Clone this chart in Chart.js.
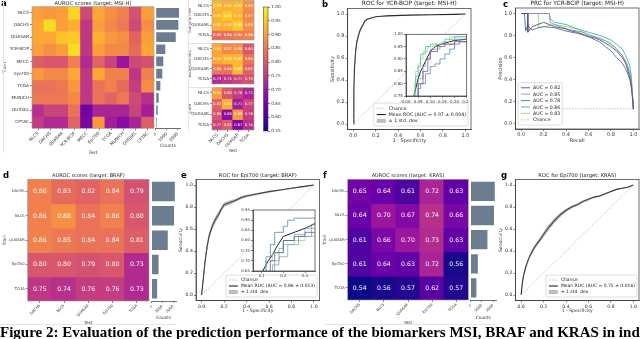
<!DOCTYPE html>
<html><head><meta charset="utf-8">
<script src="https://cdn.jsdelivr.net/npm/chart.js@4.4.1/dist/chart.umd.min.js"></script>
<style>
html,body{margin:0;padding:0;background:#fff;}
#fig{position:relative;width:640px;height:339px;overflow:hidden;background:#fff;}
canvas{position:absolute;}
.lbl{position:absolute;font:bold 8.5px 'DejaVu Sans',sans-serif;line-height:9px;color:#000;}
.rule{position:absolute;background:#e4e4e4;}
#caption{position:absolute;left:0;top:325px;white-space:nowrap;font:bold 15px 'Liberation Serif',serif;line-height:15px;color:#000;}
</style></head><body><div id="fig"></div>
<script>
// ================= DATA =================
const MSI_COHORTS = ['NLCS','DACHS','QUASAR','YCR-BCIP','MECC','Epi700','TCGA','MUNICH','DUSSEL','CPTAC'];
const MSI_AUROC = [
 [0.90,0.89,0.90,0.96,0.78,0.91,0.88,0.86,0.79,0.90],
 [0.91,0.97,0.90,0.92,0.75,0.90,0.87,0.85,0.78,0.88],
 [0.91,0.91,0.94,0.95,0.75,0.92,0.89,0.88,0.82,0.90],
 [0.90,0.88,0.90,0.97,0.75,0.90,0.87,0.87,0.83,0.91],
 [0.81,0.80,0.80,0.86,0.73,0.82,0.77,0.70,0.78,0.79],
 [0.89,0.87,0.87,0.91,0.75,0.91,0.86,0.86,0.75,0.86],
 [0.84,0.84,0.85,0.89,0.75,0.84,0.86,0.83,0.76,0.88],
 [0.85,0.85,0.85,0.87,0.75,0.84,0.82,0.85,0.78,0.74],
 [0.74,0.77,0.77,0.84,0.65,0.72,0.72,0.72,0.77,0.71],
 [0.76,0.73,0.73,0.82,0.66,0.89,0.71,0.68,0.72,0.81]];
const MSI_COUNTS = [2120,2060,1820,870,690,600,420,270,180,100];
const MSI_COUNT_MAX = 2226;
const COUNT_TICKS = [0,1000,2000];

const MODEL_NAMES = ['Transformer','AttentionMIL','CNN'];
const MODEL_COHORTS = ['NLCS','DACHS','QUASAR','TCGA'];
const TRANSFORMER_AUROC = [[0.93,0.92,0.93,0.88],[0.92,0.95,0.92,0.87],[0.92,0.92,0.95,0.88],[0.83,0.84,0.85,0.86]];
const ATTMIL_AUROC = [[0.91,0.87,0.88,0.80],[0.91,0.93,0.93,0.84],[0.85,0.84,0.93,0.82],[0.73,0.75,0.77,0.79]];
const CNN_AUROC = [[0.90,0.80,0.76,0.72],[0.82,0.92,0.71,0.77],[0.80,0.68,0.89,0.76],[0.77,0.81,0.67,0.74]];

const CBAR_MIN = 0.55, CBAR_MAX = 1.00;
const CBAR_TICKS = [0.55,0.60,0.65,0.70,0.75,0.80,0.85,0.90,0.95,1.00];

const ROC_TICKS = [0,0.2,0.4,0.6,0.8,1.0];
const CHANCE_LINE = [[0,0],[1,1]];
const MSI_ROC_MEAN = [[0,0],[0.005,0.3],[0.01,0.5],[0.02,0.65],[0.03,0.74],[0.04,0.78],[0.05,0.82],[0.06,0.85],[0.07,0.87],[0.08,0.89],[0.09,0.91],[0.1,0.93],[0.12,0.95],[0.15,0.962],[0.2,0.975],[0.25,0.98],[0.3,0.983],[0.5,0.99],[0.7,0.993],[0.9,0.997],[1,1]];
const MSI_ROC_UPPER = [[0,0],[0.005,0.36],[0.01,0.55],[0.02,0.69],[0.03,0.77],[0.04,0.81],[0.05,0.845],[0.06,0.87],[0.08,0.905],[0.1,0.94],[0.12,0.955],[0.15,0.966],[0.2,0.978],[0.3,0.985],[0.5,0.991],[0.7,0.994],[0.9,0.998],[1,1]];
const MSI_ROC_LOWER = [[0,0],[0.005,0.25],[0.01,0.45],[0.02,0.61],[0.03,0.71],[0.04,0.75],[0.05,0.795],[0.06,0.83],[0.08,0.875],[0.1,0.92],[0.12,0.945],[0.15,0.958],[0.2,0.972],[0.3,0.981],[0.5,0.989],[0.7,0.992],[0.9,0.996],[1,1]];
const MSI_ROC_FOLDS = [
 [[0.04,0.74],[0.05,0.8],[0.07,0.85],[0.09,0.9],[0.1,0.93],[0.13,0.95],[0.16,0.96],[0.2,0.97],[0.25,0.975]],
 [[0.035,0.74],[0.05,0.82],[0.07,0.87],[0.08,0.9],[0.1,0.94],[0.14,0.96],[0.2,0.98],[0.25,0.985]],
 [[0.04,0.74],[0.05,0.78],[0.06,0.8],[0.08,0.84],[0.1,0.87],[0.12,0.88],[0.14,0.9],[0.16,0.92],[0.18,0.94],[0.2,0.96],[0.22,0.97],[0.25,0.97]],
 [[0.03,0.74],[0.04,0.83],[0.05,0.87],[0.06,0.92],[0.08,0.95],[0.1,0.96],[0.13,0.96],[0.16,0.98],[0.2,0.99],[0.25,0.99]],
 [[0.03,0.74],[0.035,0.8],[0.04,0.85],[0.05,0.88],[0.06,0.9],[0.07,0.93],[0.09,0.95],[0.12,0.96],[0.15,0.97],[0.18,0.99],[0.25,0.99]]];
const MSI_INSET_XTICKS = [0,0.05,0.10,0.15,0.20,0.25];
const MSI_INSET_YTICKS = [0.75,0.80,0.85,0.90,0.95,1.00];
const FOLD_COLORS = ['#6a3d8f','#8a8fb5','#3d7ba1','#3cb3a8','#8cd96a'];

const PRC_FOLDS = [
 [[0,1],[0.06,1],[0.06,0.83],[0.1,0.88],[0.15,0.9],[0.2,0.92],[0.25,0.9],[0.3,0.88],[0.35,0.87],[0.4,0.86],[0.45,0.84],[0.5,0.83],[0.55,0.81],[0.6,0.79],[0.65,0.78],[0.7,0.76],[0.75,0.73],[0.8,0.7],[0.85,0.66],[0.9,0.6],[0.93,0.55],[0.96,0.45],[0.98,0.35],[0.99,0.25],[1,0.13]],
 [[0,1],[0.25,1],[0.26,0.92],[0.3,0.9],[0.35,0.88],[0.4,0.86],[0.45,0.85],[0.5,0.84],[0.55,0.83],[0.6,0.81],[0.65,0.79],[0.7,0.77],[0.75,0.75],[0.8,0.72],[0.85,0.68],[0.9,0.62],[0.94,0.55],[0.97,0.45],[0.99,0.3],[1,0.13]],
 [[0,1],[0.03,1],[0.04,0.84],[0.06,0.9],[0.08,0.86],[0.1,0.85],[0.15,0.87],[0.2,0.88],[0.3,0.87],[0.4,0.84],[0.5,0.82],[0.6,0.79],[0.7,0.74],[0.75,0.7],[0.8,0.66],[0.85,0.6],[0.9,0.55],[0.93,0.5],[0.95,0.45],[0.97,0.4],[0.99,0.28],[1,0.13]],
 [[0,1],[0.25,1],[0.26,0.95],[0.3,0.92],[0.4,0.9],[0.5,0.86],[0.6,0.83],[0.7,0.8],[0.8,0.76],[0.85,0.72],[0.9,0.68],[0.93,0.62],[0.96,0.55],[0.98,0.45],[1,0.13]],
 [[0,1],[0.15,1],[0.16,0.87],[0.2,0.88],[0.3,0.9],[0.4,0.88],[0.5,0.86],[0.6,0.8],[0.7,0.78],[0.8,0.73],[0.85,0.68],[0.9,0.62],[0.95,0.52],[0.98,0.4],[1,0.15]]];
const PRC_AUC = [0.82,0.85,0.78,0.86,0.83];
const PRC_CHANCE = 0.135;

const BK_COHORTS = ['DACHS','NLCS','QUASAR','Epi700','TCGA'];
const BRAF_AUROC = [[0.86,0.83,0.82,0.84,0.79],[0.86,0.88,0.84,0.86,0.80],[0.86,0.85,0.84,0.84,0.81],[0.80,0.80,0.79,0.80,0.73],[0.75,0.74,0.76,0.76,0.73]];
const KRAS_AUROC = [[0.65,0.64,0.61,0.72,0.63],[0.64,0.70,0.67,0.74,0.66],[0.61,0.66,0.70,0.73,0.63],[0.61,0.64,0.63,0.72,0.56],[0.54,0.56,0.57,0.62,0.57]];
const BK_COUNTS = [2150,2080,1500,650,520];
const BK_COUNT_MAX = 2258;

const BRAF_ROC_MEAN = [[0,0],[0.01,0.1],[0.02,0.2],[0.03,0.3],[0.05,0.45],[0.07,0.55],[0.09,0.61],[0.11,0.66],[0.13,0.7],[0.15,0.73],[0.17,0.77],[0.2,0.82],[0.25,0.84],[0.3,0.86],[0.35,0.885],[0.4,0.9],[0.5,0.92],[0.6,0.94],[0.7,0.955],[0.8,0.97],[0.9,0.985],[1,1]];
const BRAF_ROC_UPPER = [[0,0],[0.01,0.13],[0.02,0.24],[0.03,0.34],[0.05,0.49],[0.07,0.585],[0.09,0.645],[0.11,0.69],[0.13,0.73],[0.15,0.76],[0.17,0.795],[0.2,0.84],[0.25,0.86],[0.3,0.875],[0.35,0.9],[0.4,0.912],[0.5,0.93],[0.6,0.948],[0.7,0.962],[0.8,0.975],[0.9,0.988],[1,1]];
const BRAF_ROC_LOWER = [[0,0],[0.01,0.07],[0.02,0.16],[0.03,0.26],[0.05,0.41],[0.07,0.515],[0.09,0.575],[0.11,0.63],[0.13,0.67],[0.15,0.7],[0.17,0.745],[0.2,0.8],[0.25,0.82],[0.3,0.845],[0.35,0.87],[0.4,0.888],[0.5,0.91],[0.6,0.932],[0.7,0.948],[0.8,0.965],[0.9,0.982],[1,1]];
const BRAF_ROC_FOLDS = [
 [[0.13,0.64],[0.14,0.7],[0.16,0.74],[0.2,0.8],[0.25,0.82],[0.3,0.84],[0.35,0.86]],
 [[0.12,0.64],[0.15,0.68],[0.18,0.72],[0.22,0.78],[0.27,0.82],[0.33,0.88],[0.35,0.89]],
 [[0.1,0.64],[0.12,0.72],[0.14,0.78],[0.16,0.84],[0.2,0.87],[0.22,0.9],[0.25,0.91],[0.35,0.91]],
 [[0.14,0.64],[0.16,0.7],[0.18,0.76],[0.2,0.8],[0.25,0.83],[0.3,0.86],[0.35,0.9]],
 [[0.1,0.64],[0.12,0.7],[0.15,0.74],[0.2,0.78],[0.25,0.8],[0.3,0.82],[0.35,0.84]]];
const BRAF_INSET_XTICKS = [0.1,0.2,0.3];
const BRAF_INSET_YTICKS = [0.65,0.70,0.75,0.80,0.85,0.90,0.95];

const KRAS_ROC_MEAN = [[0,0],[0.01,0.1],[0.02,0.17],[0.04,0.25],[0.06,0.31],[0.08,0.36],[0.1,0.4],[0.13,0.45],[0.16,0.49],[0.2,0.55],[0.25,0.62],[0.3,0.68],[0.35,0.73],[0.4,0.77],[0.45,0.8],[0.5,0.82],[0.55,0.85],[0.6,0.87],[0.65,0.89],[0.7,0.9],[0.75,0.92],[0.8,0.94],[0.85,0.96],[0.9,0.97],[0.95,0.98],[1,1]];
const KRAS_ROC_UPPER = [[0,0],[0.01,0.12],[0.02,0.19],[0.04,0.27],[0.06,0.33],[0.08,0.38],[0.1,0.42],[0.13,0.47],[0.16,0.51],[0.2,0.575],[0.25,0.645],[0.3,0.7],[0.35,0.75],[0.4,0.785],[0.45,0.813],[0.5,0.832],[0.55,0.86],[0.6,0.88],[0.65,0.898],[0.7,0.908],[0.75,0.927],[0.8,0.946],[0.85,0.964],[0.9,0.974],[0.95,0.983],[1,1]];
const KRAS_ROC_LOWER = [[0,0],[0.01,0.08],[0.02,0.15],[0.04,0.23],[0.06,0.29],[0.08,0.34],[0.1,0.38],[0.13,0.43],[0.16,0.47],[0.2,0.525],[0.25,0.595],[0.3,0.66],[0.35,0.71],[0.4,0.755],[0.45,0.787],[0.5,0.808],[0.55,0.84],[0.6,0.86],[0.65,0.882],[0.7,0.892],[0.75,0.913],[0.8,0.934],[0.85,0.956],[0.9,0.966],[0.95,0.977],[1,1]];

// ================= STYLE HELPERS =================
const FONT = 'DejaVu Sans';
const AX = '#333';
const PLASMA = ['#0d0887','#41049d','#6a00a8','#8f0da4','#b12a90','#cc4778','#e16462','#f2844b','#fca636','#fcce25','#f0f921'];
function hex(h){return [parseInt(h.slice(1,3),16),parseInt(h.slice(3,5),16),parseInt(h.slice(5,7),16)];}
function plasma(v){
  let t=(v-CBAR_MIN)/(CBAR_MAX-CBAR_MIN); t=Math.max(0,Math.min(1,t));
  const p=t*10, i=Math.min(9,Math.floor(p)), f=p-i;
  const a=hex(PLASMA[i]), b=hex(PLASMA[i+1]);
  return 'rgb('+a.map((x,k)=>Math.round(x+(b[k]-x)*f)).join(',')+')';
}
Chart.defaults.font.family = FONT;
Chart.defaults.color = '#333';
Chart.defaults.animation = false;
Chart.defaults.responsive = false;
Chart.defaults.events = [];
Chart.defaults.plugins.legend.display = false;
Chart.defaults.plugins.tooltip.enabled = false;

const fig = document.getElementById('fig');
function mount(box, spec){
  const cv=document.createElement('canvas');
  cv.width=box.w; cv.height=box.h;
  cv.style.left=box.x+'px'; cv.style.top=box.y+'px';
  cv.style.width=box.w+'px'; cv.style.height=box.h+'px';
  cv.__spec=Object.assign({ox:box.x, oy:box.y}, spec||{});
  fig.appendChild(cv); return cv;
}
function fix(size){ return s=>{ if(s.isHorizontal()) s.height=size; else s.width=size; s.paddingLeft=s.paddingRight=s.paddingTop=s.paddingBottom=0; }; }

// ================= PLUGINS =================
Chart.register({id:'whiteBg', beforeDraw(chart){ const sp=chart.canvas.__spec; if(!sp||!sp.bg) return; const a=chart.chartArea,c=chart.ctx; c.save(); c.fillStyle='#fff'; c.fillRect(a.left,a.top,a.right-a.left,a.bottom-a.top); c.restore(); }});
Chart.register({id:'frame', afterDatasetsDraw(chart){ const sp=chart.canvas.__spec; if(!sp||!sp.frame) return; const a=chart.chartArea,c=chart.ctx; c.save(); c.strokeStyle=sp.frame; c.lineWidth=sp.frameW||0.7; c.strokeRect(a.left,a.top,a.right-a.left,a.bottom-a.top); c.restore(); }});
Chart.register({id:'cellLabels', afterDatasetsDraw(chart){ const sp=chart.canvas.__spec; if(!sp||!sp.cell) return; const c=chart.ctx; c.save(); c.font=sp.cell+'px '+FONT; c.fillStyle='#fff'; c.textAlign='center'; c.textBaseline='middle';
  chart.data.datasets.forEach((ds,i)=>{ chart.getDatasetMeta(i).data.forEach((el,j)=>{ const p=el.getCenterPoint(); c.fillText(ds.values[j].toFixed(2), p.x, p.y+0.3); }); }); c.restore(); }});
Chart.register({id:'axTitle', afterDraw(chart){ const sp=chart.canvas.__spec; if(!sp||!sp.title) return; const c=chart.ctx,a=chart.chartArea; c.save(); c.font=sp.title.size+'px '+FONT; c.fillStyle='#222'; c.textAlign='center'; c.textBaseline='middle'; c.fillText(sp.title.text,(a.left+a.right)/2,sp.title.y-sp.oy); c.restore(); }});
Chart.register({id:'insetLegend', afterDraw(chart){
  const sp=chart.canvas.__spec; if(!sp||!sp.legend) return;
  const L=sp.legend, c=chart.ctx, all=chart.data.datasets;
  const list=L.order.map(i=>all[i]);
  c.save(); c.font=L.size+'px '+FONT;
  let tw=0; list.forEach(d=>{tw=Math.max(tw,c.measureText(d.label).width);});
  const hl=9, pad=2, w=tw+hl+3*pad+2, h=list.length*L.rowH+2*pad;
  const x=(L.right!==undefined? L.right-w : L.left)-sp.ox, y=L.bottom-h-sp.oy;
  c.fillStyle='rgba(255,255,255,0.85)'; c.strokeStyle='#d0d0d0'; c.lineWidth=0.7;
  c.beginPath(); if(c.roundRect) c.roundRect(x,y,w,h,1.5); else c.rect(x,y,w,h); c.fill(); c.stroke();
  list.forEach((d,i)=>{
    const cy=y+pad+i*L.rowH+L.rowH/2, hx=x+pad+1;
    if(d.isBand){ c.fillStyle=d.backgroundColor; c.fillRect(hx,cy-2,hl,4); }
    else { c.strokeStyle=d.borderColor; c.lineWidth=d.borderWidth; c.setLineDash(d.borderDash||[]); c.beginPath(); c.moveTo(hx,cy); c.lineTo(hx+hl,cy); c.stroke(); c.setLineDash([]); }
    c.fillStyle='#222'; c.textAlign='left'; c.textBaseline='middle'; c.fillText(d.label,hx+hl+pad+1,cy+0.3);
  });
  c.restore();
}});

// ================= AXIS BUILDERS =================
function linAxis(o){
  return {
    type:'linear', position:o.pos, min:o.min, max:o.max, display:true,
    afterBuildTicks:s=>{ s.ticks=o.ticks.map(v=>({value:v})); },
    afterFit:fix(o.size),
    ticks:{callback:o.fmt, font:{size:o.fs,family:FONT}, color:'#333', padding:1.2, autoSkip:false, maxRotation:o.rot||0, minRotation:o.rot||0},
    grid:{display:true, drawOnChartArea:false, drawTicks:true, tickLength:2, tickWidth:0.6, tickColor:AX},
    border:{display:o.border!==false, color:AX, width:0.7},
    title:o.title?{display:true,text:o.title,font:{size:o.ts,family:FONT},color:'#333',padding:{top:o.tpad||0,bottom:0}}:{display:false}
  };
}
function lineChart(box, plot, spec){
  const cv=mount(box,{frame:AX,title:spec.title,legend:spec.legend,bg:spec.bg});
  new Chart(cv,{type:'line',data:{datasets:spec.datasets},options:{
    layout:{padding:{left:0,top:plot.t-box.y,right:box.x+box.w-plot.r,bottom:0}},
    scales:{
      x:linAxis({pos:'bottom',min:spec.x[0],max:spec.x[1],ticks:spec.xt,fmt:spec.xf,size:box.y+box.h-plot.b,fs:spec.fs,title:spec.xl,ts:spec.ls}),
      y:linAxis({pos:'left',min:spec.y[0],max:spec.y[1],ticks:spec.yt,fmt:spec.yf,size:plot.l-box.x,fs:spec.fs,title:spec.yl,ts:spec.ls})
    }}});
}
function heat(box, plot, rows, cols, vals, spec){
  const N=rows.length;
  const cv=mount(box,{frame:'#999',frameW:0.6,cell:spec.cell,title:spec.title});
  const datasets=rows.map((r,i)=>({label:r, data:cols.map(()=>[N-1-i,N-i]), values:vals[i],
    backgroundColor:vals[i].map(v=>plasma(v)), borderWidth:0, inflateAmount:0.6, grouped:false, barPercentage:1, categoryPercentage:1}));
  const xh=box.y+box.h-plot.b;
  new Chart(cv,{type:'bar',data:{labels:cols,datasets},options:{
    layout:{padding:{left:0,top:plot.t-box.y,right:box.x+box.w-plot.r,bottom:spec.xlabels?0:xh}},
    scales:{
      x:{type:'category',display:!!spec.xlabels,offset:true,afterFit:fix(xh),
        ticks:{font:{size:spec.fs,family:FONT},color:'#333',maxRotation:45,minRotation:45,padding:0.5,autoSkip:false},
        grid:{display:true,offset:false,drawOnChartArea:false,tickLength:2,tickWidth:0.6,tickColor:AX},
        border:{display:false},
        title:spec.xt?{display:true,text:spec.xt,font:{size:spec.ts,family:FONT},color:'#333',padding:{top:0,bottom:0}}:{display:false}},
      y:{type:'linear',min:0,max:N,afterBuildTicks:s=>{ s.ticks=rows.map((r,i)=>({value:N-i-0.5})); },afterFit:fix(plot.l-box.x),
        ticks:{callback:(v,i)=>rows[i],font:{size:spec.fs,family:FONT},color:'#333',padding:1,autoSkip:false},
        grid:{display:true,drawOnChartArea:false,tickLength:2,tickWidth:0.6,tickColor:AX},
        border:{display:false},
        title:{display:true,text:spec.yt,font:{size:spec.ts,family:FONT},color:'#333',padding:{top:spec.ytpad||0,bottom:0}}}
    }}});
}
function counts(box, plot, rows, vals, max, spec){
  const cv=mount(box,{});
  new Chart(cv,{type:'bar',data:{labels:rows,datasets:[{data:vals,backgroundColor:'#6c7c91',barPercentage:0.8,categoryPercentage:1,borderWidth:0}]},
    options:{indexAxis:'y',
      layout:{padding:{left:plot.l-box.x,top:plot.t-box.y,right:box.x+box.w-plot.r,bottom:0}},
      scales:{ y:{display:false},
        x:linAxis({pos:'bottom',min:0,max:max,ticks:COUNT_TICKS,fmt:v=>String(v),size:box.y+box.h-plot.b,fs:spec.fs,rot:45,title:'Counts',ts:spec.ts}) }}});
}
function colorbar(box, plot){
  const cv=mount(box,{frame:'#444',frameW:0.6});
  new Chart(cv,{type:'bar',data:{labels:['cb'],datasets:[{data:[[CBAR_MIN,CBAR_MAX]],borderWidth:0,barPercentage:1,categoryPercentage:1,
    backgroundColor:ctx=>{ const ch=ctx.chart,a=ch.chartArea; if(!a) return PLASMA[5]; const g=ch.ctx.createLinearGradient(0,a.bottom,0,a.top); PLASMA.forEach((c,k)=>g.addColorStop(k/10,c)); return g; }}]},
    options:{layout:{padding:{left:plot.l-box.x,top:plot.t-box.y,right:0,bottom:box.y+box.h-plot.b}},
      scales:{x:{display:false},
        y:linAxis({pos:'right',min:CBAR_MIN,max:CBAR_MAX,ticks:CBAR_TICKS,fmt:v=>v.toFixed(2),size:box.x+box.w-plot.r,fs:4.3,border:false})}}});
}
function rocSets(mean, upper, lower, label){
  return [
    {label:'Chance',data:CHANCE_LINE,borderColor:'#b8b8b8',borderWidth:0.8,borderDash:[1.6,1.4],pointRadius:0,fill:false},
    {label:'_lower',data:lower,borderColor:'rgba(0,0,0,0)',borderWidth:0.1,pointRadius:0,fill:false},
    {label:'± 1 std. dev.',data:upper,borderColor:'rgba(0,0,0,0)',borderWidth:0.1,pointRadius:0,fill:'-1',backgroundColor:'rgba(110,110,110,0.45)',isBand:true},
    {label:label,data:mean,borderColor:'#222',borderWidth:1.1,pointRadius:0,fill:false}
  ];
}
function foldSets(folds, width, stepped){
  return folds.map((f,i)=>({label:'_f'+i,data:f,borderColor:FOLD_COLORS[i],borderWidth:width,pointRadius:0,fill:false,stepped:stepped,clip:0}));
}
const f1=v=>v.toFixed(1), f2=v=>v.toFixed(2);

// ================= PANEL a =================
heat({x:1,y:0,w:155,h:156},{l:32,t:6.7,r:154,b:128.3},MSI_COHORTS,MSI_COHORTS,MSI_AUROC,
  {xlabels:true,fs:4.3,ts:4.5,xt:'Test',yt:'Train',ytpad:1,title:{text:'AUROC scores (target: MSI-H)',y:3.6,size:5.2}});
counts({x:154,y:0,w:29,h:149},{l:155.7,t:6.7,r:180.2,b:128.3},MSI_COHORTS,MSI_COUNTS,MSI_COUNT_MAX,{fs:4.3,ts:4.5});
const GROUPS=[
  {name:MODEL_NAMES[0],vals:TRANSFORMER_AUROC,box:{x:186,y:0,w:70,h:42},plot:{l:212,t:0.5,r:254,b:41},xl:false},
  {name:MODEL_NAMES[1],vals:ATTMIL_AUROC,box:{x:186,y:43,w:70,h:43},plot:{l:212,t:43.5,r:254,b:85},xl:false},
  {name:MODEL_NAMES[2],vals:CNN_AUROC,box:{x:186,y:87,w:70,h:66},plot:{l:212,t:87.7,r:254,b:130},xl:true}];
GROUPS.forEach(g=>heat(g.box,g.plot,MODEL_COHORTS,MODEL_COHORTS,g.vals,{xlabels:g.xl,fs:4.2,ts:4.3,xt:g.xl?'Test':null,yt:g.name,ytpad:1.4,cell:3.6}));
colorbar({x:260,y:0,w:34,h:140},{l:263.5,t:7,r:268,b:131});

// ================= PANEL b =================
lineChart({x:330,y:0,w:143,h:144},{l:347.7,t:8.5,r:471,b:129.5},{
  datasets:rocSets(MSI_ROC_MEAN,MSI_ROC_UPPER,MSI_ROC_LOWER,'Mean ROC (AUC = 0.97 ± 0.004)'),
  x:[-0.05,1.05],y:[-0.05,1.05],xt:ROC_TICKS,yt:ROC_TICKS,xf:f1,yf:f1,fs:5,ls:5,xl:'1 - Specificity',yl:'Sensitivity',
  title:{text:'ROC for YCR-BCIP (target: MSI-H)',y:3.6,size:5.8},
  legend:{order:[0,3,2],right:468,bottom:126,size:4.7,rowH:6.3}});
lineChart({x:390,y:30,w:79,h:76},{l:406,t:34.3,r:466.7,b:96},{
  datasets:foldSets(MSI_ROC_FOLDS,0.7,'before').concat([{label:'_mean',data:MSI_ROC_MEAN,borderColor:'#222',borderWidth:1,pointRadius:0,fill:false,clip:0}]),
  x:[0,0.25],y:[0.75,1.0],xt:MSI_INSET_XTICKS,yt:MSI_INSET_YTICKS,xf:f2,yf:f2,fs:4,bg:true});

// ================= PANEL c =================
lineChart({x:498,y:0,w:142,h:144},{l:515.5,t:8,r:639,b:129},{
  datasets:PRC_FOLDS.map((f,i)=>({label:'AUC = '+PRC_AUC[i].toFixed(2),data:f,borderColor:FOLD_COLORS[i],borderWidth:0.9,pointRadius:0,fill:false}))
    .concat([{label:'Chance',data:[[0,PRC_CHANCE],[1,PRC_CHANCE]],borderColor:'#b8b8b8',borderWidth:0.8,borderDash:[1.6,1.4],pointRadius:0,fill:false}]),
  x:[-0.05,1.05],y:[-0.05,1.05],xt:ROC_TICKS,yt:ROC_TICKS,xf:f1,yf:f1,fs:5,ls:5,xl:'Recall',yl:'Precision',
  title:{text:'PRC for YCR-BCIP (target: MSI-H)',y:3.6,size:5.8},
  legend:{order:[0,1,2,3,4,5],left:518,bottom:125,size:4.7,rowH:6.4}});

// ================= PANEL d =================
heat({x:0,y:170,w:151,h:155},{l:27.7,t:179.3,r:149,b:301},BK_COHORTS,BK_COHORTS,BRAF_AUROC,
  {xlabels:true,fs:3.7,ts:4.3,xt:'Test',yt:'Train',ytpad:2,cell:6.2,title:{text:'AUROC scores (target: BRAF)',y:175.8,size:5}});
counts({x:150,y:170,w:28,h:150},{l:151.5,t:179.3,r:176,b:301},BK_COHORTS,BK_COUNTS,BK_COUNT_MAX,{fs:3.7,ts:4.3});

// ================= PANEL e =================
lineChart({x:178,y:170,w:144,h:144},{l:196,t:179.5,r:319.6,b:300.5},{
  datasets:rocSets(BRAF_ROC_MEAN,BRAF_ROC_UPPER,BRAF_ROC_LOWER,'Mean ROC (AUC = 0.86 ± 0.013)'),
  x:[-0.05,1.05],y:[-0.05,1.05],xt:ROC_TICKS,yt:ROC_TICKS,xf:f1,yf:f1,fs:4.6,ls:4.6,xl:'1 - Specificity',yl:'Sensitivity',
  title:{text:'ROC for Epi700 (target: BRAF)',y:175.3,size:5.2},
  legend:{order:[0,3,2],right:317,bottom:297,size:4.5,rowH:6}});
lineChart({x:238,y:205,w:80,h:76},{l:253,t:210,r:315,b:271},{
  datasets:foldSets(BRAF_ROC_FOLDS,0.7,'before').concat([{label:'_mean',data:BRAF_ROC_MEAN,borderColor:'#222',borderWidth:1,pointRadius:0,fill:false,clip:0}]),
  x:[0.06,0.346],y:[0.65,0.95],xt:BRAF_INSET_XTICKS,yt:BRAF_INSET_YTICKS,xf:f1,yf:f2,fs:3.8,bg:true});

// ================= PANEL f =================
heat({x:320,y:170,w:150,h:155},{l:347.7,t:179.3,r:468.3,b:300},BK_COHORTS,BK_COHORTS,KRAS_AUROC,
  {xlabels:true,fs:3.7,ts:4.3,xt:'Test',yt:'Train',ytpad:2,cell:6.2,title:{text:'AUROC scores (target: KRAS)',y:175.8,size:5}});
counts({x:469,y:170,w:29,h:150},{l:470.5,t:179.3,r:496,b:300},BK_COHORTS,BK_COUNTS,BK_COUNT_MAX,{fs:3.7,ts:4.3});

// ================= PANEL g =================
lineChart({x:498,y:170,w:142,h:144},{l:515.5,t:179.5,r:639,b:300.5},{
  datasets:rocSets(KRAS_ROC_MEAN,KRAS_ROC_UPPER,KRAS_ROC_LOWER,'Mean ROC (AUC = 0.75 ± 0.016)'),
  x:[-0.05,1.05],y:[-0.05,1.05],xt:ROC_TICKS,yt:ROC_TICKS,xf:f1,yf:f1,fs:4.6,ls:4.6,xl:'1 - Specificity',yl:'Sensitivity',
  title:{text:'ROC for Epi700 (target: KRAS)',y:175.3,size:5.2},
  legend:{order:[0,3,2],right:637,bottom:297,size:4.5,rowH:6}});

// ================= LABELS, RULES, CAPTION =================
[['a',1,-0.8],['b',322,-0.3],['c',503,-0.3],['d',3,171.2],['e',181,170.7],['f',323,170.7],['g',501,170.5]].forEach(([t,x,y])=>{
  const d=document.createElement('div'); d.className='lbl'; d.textContent=t; d.style.left=x+'px'; d.style.top=y+'px'; fig.appendChild(d); });
[[3,0,1,153],[188,0,1,131],[188,42.5,24,1],[188,86.5,24,1],[0,324,176,1],[325,324,172,1]].forEach(([x,y,w,h])=>{
  const d=document.createElement('div'); d.className='rule'; d.style.cssText+=`left:${x}px;top:${y}px;width:${w}px;height:${h}px;`; fig.appendChild(d); });
const cap=document.createElement('div'); cap.id='caption';
cap.textContent='Figure 2: Evaluation of the prediction performance of the biomarkers MSI, BRAF and KRAS in independent cohorts.';
fig.appendChild(cap);
</script></body></html>
